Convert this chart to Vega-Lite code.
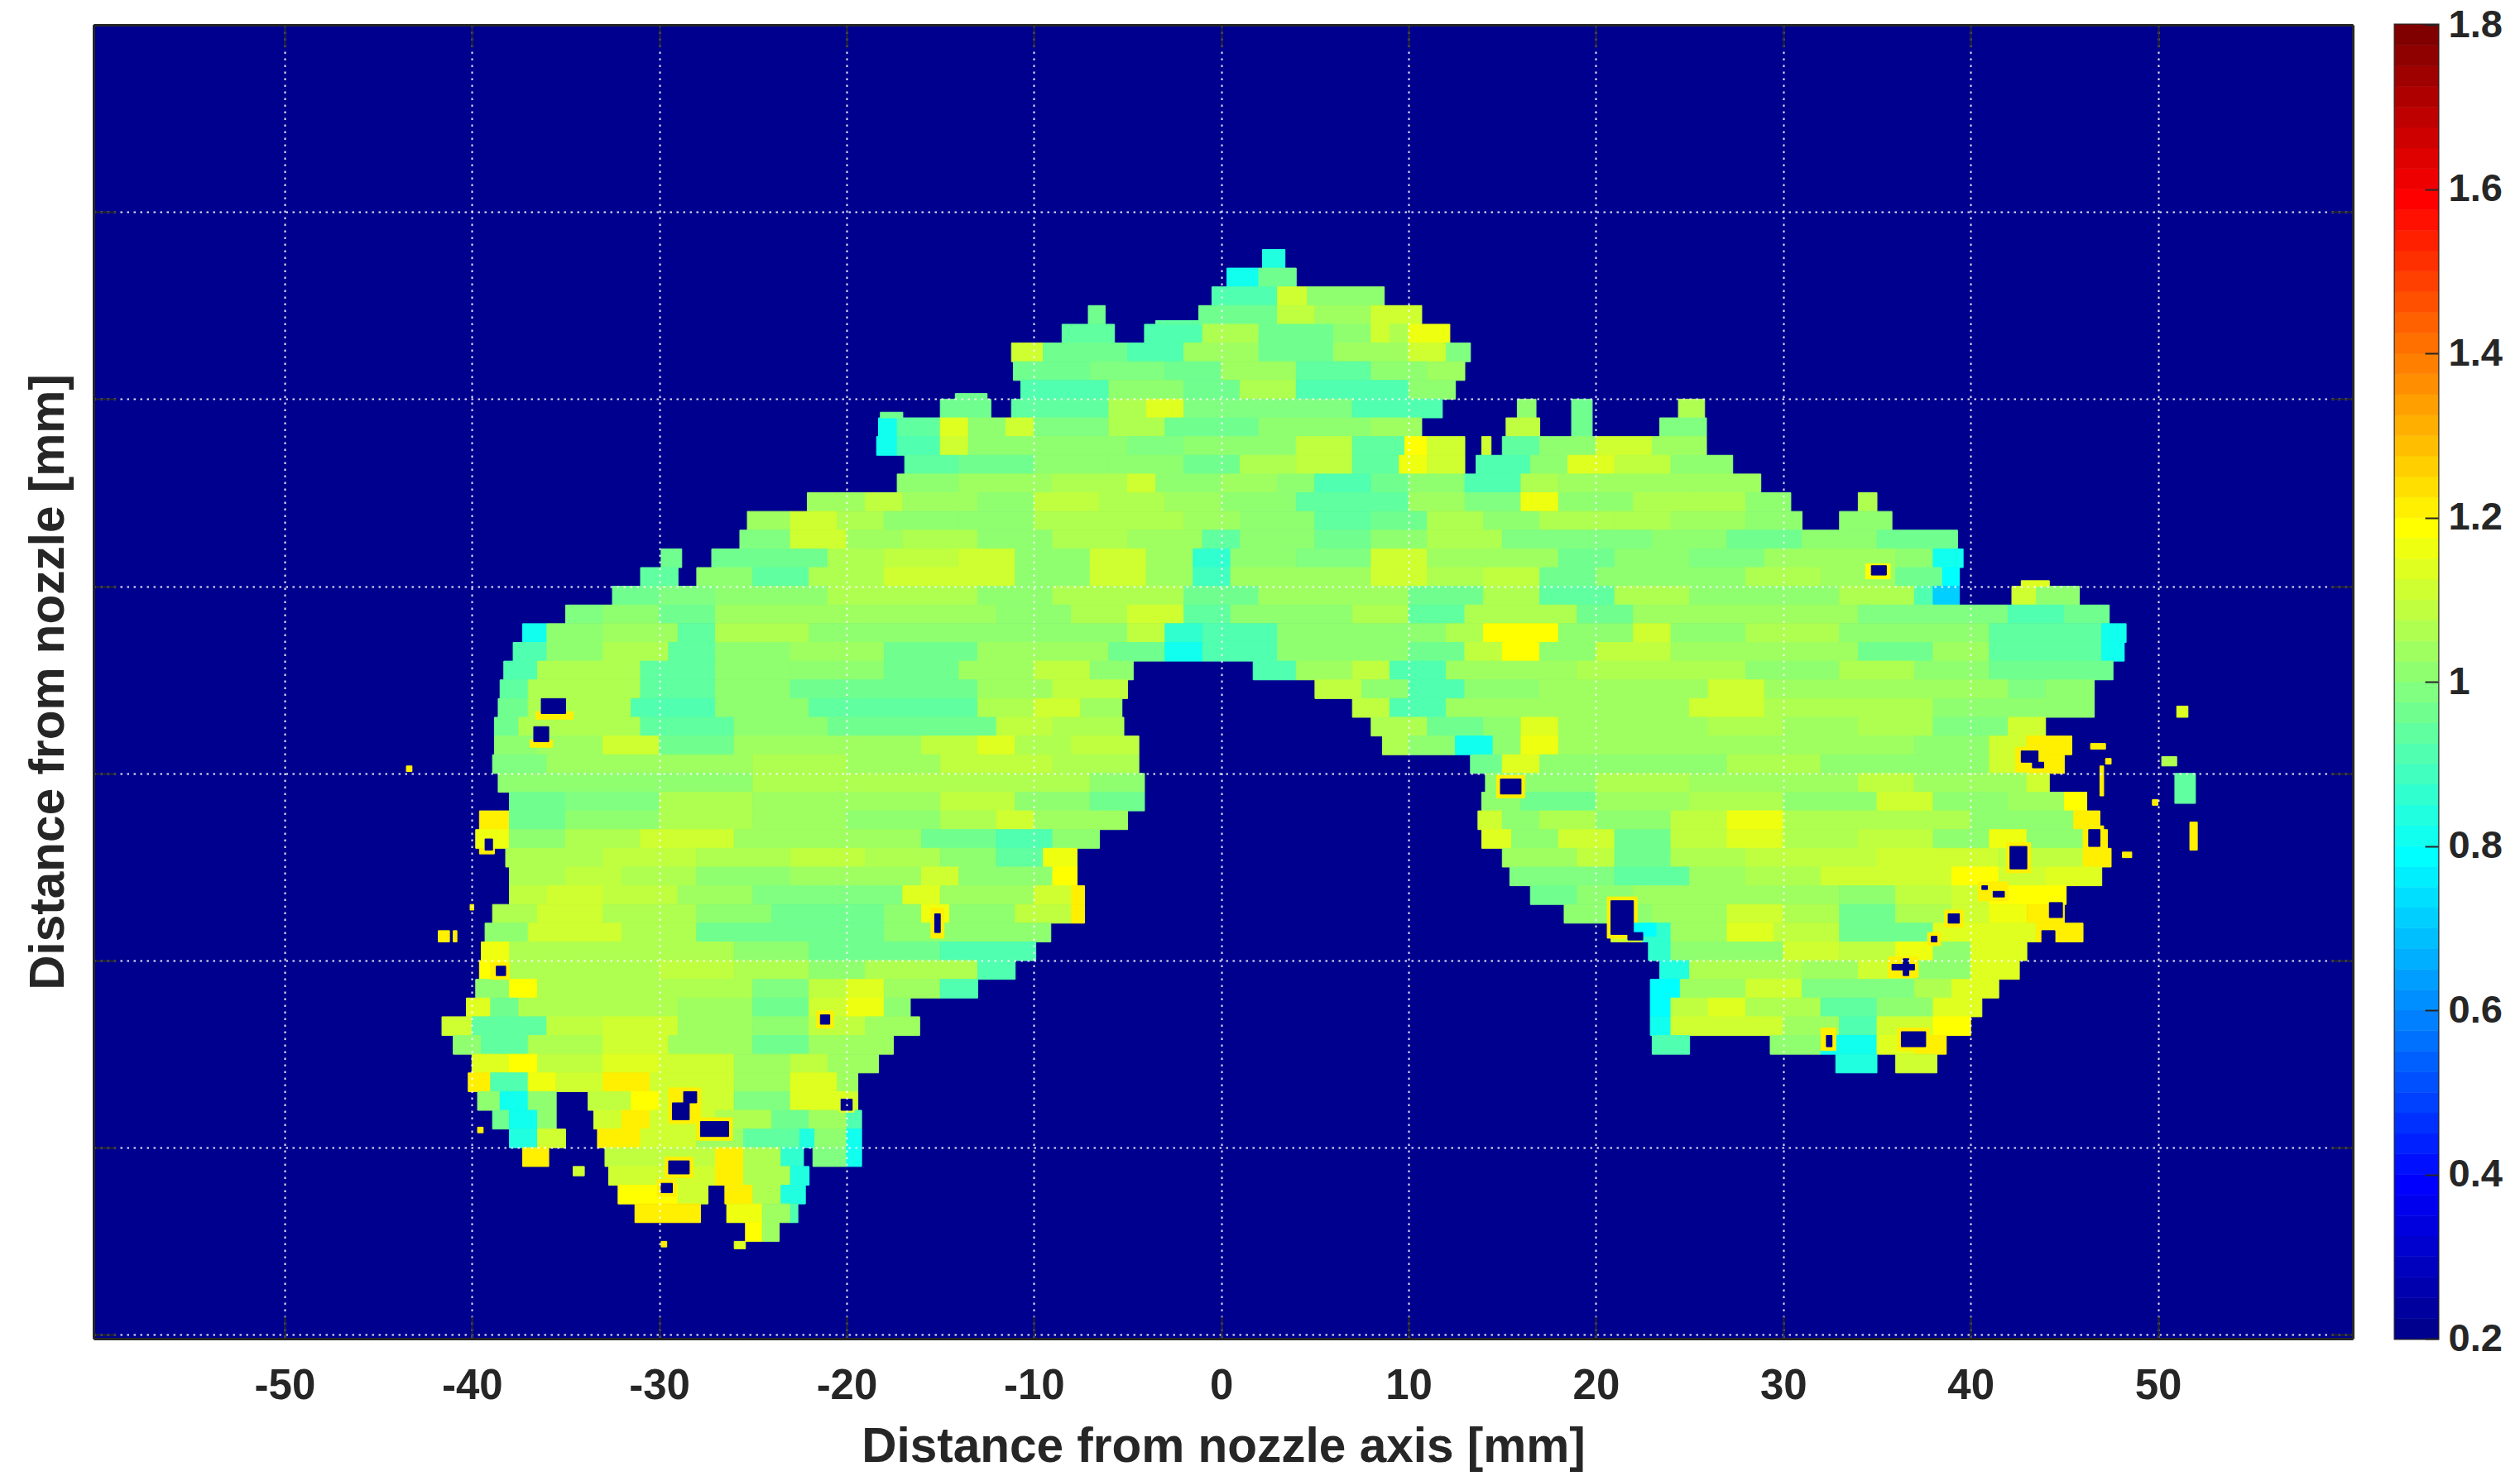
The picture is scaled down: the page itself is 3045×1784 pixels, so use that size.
{"$schema":"https://vega.github.io/schema/vega-lite/v6.json","background":"white","padding":{"left":29,"top":4,"right":5,"bottom":5},"spacing":48,"config":{"view":{"stroke":null},"font":"Liberation Sans"},"datasets":{"frame":[{"x":-60.2,"x2":60.4,"y":-0.2,"y2":70,"v":0.2}],
"cells":[{"x":-60.2,"x2":60.4,"y":-0.2,"y2":70,"v":0.2},
{"x":2.2,"x2":3.4,"y":57,"y2":58,"v":0.84},{"x":0.3,"x2":2,"y":56,"y2":57,"v":0.82},{"x":2,"x2":4,"y":56,"y2":57,"v":0.95},
{"x":-0.5,"x2":3,"y":55,"y2":56,"v":0.92},{"x":3,"x2":4.6,"y":55,"y2":56,"v":1.1},{"x":4.6,"x2":8.7,"y":55,"y2":56,"v":1.02},
{"x":-7.1,"x2":-6.2,"y":54,"y2":55,"v":0.95},{"x":-1.2,"x2":3,"y":54,"y2":55,"v":0.97},{"x":3,"x2":5,"y":54,"y2":55,"v":1.08},{"x":5,"x2":8,"y":54,"y2":55,"v":1.03},{"x":8,"x2":10.7,"y":54,"y2":55,"v":1.1},
{"x":-8.5,"x2":-5.7,"y":53,"y2":54,"v":0.93},{"x":-4.1,"x2":-1,"y":53,"y2":54,"v":0.92},{"x":-1,"x2":2,"y":53,"y2":54,"v":1.05},{"x":2,"x2":6,"y":53,"y2":54,"v":0.96},{"x":6,"x2":8,"y":53,"y2":54,"v":1.02},{"x":8,"x2":9,"y":53,"y2":54,"v":1.12},{"x":9,"x2":10,"y":53,"y2":54,"v":1.06},{"x":10,"x2":12.2,"y":53,"y2":54,"v":1.16},
{"x":-11.2,"x2":-9.5,"y":52,"y2":53,"v":1.12},{"x":-9.5,"x2":-5,"y":52,"y2":53,"v":0.95},{"x":-5,"x2":-2,"y":52,"y2":53,"v":0.92},{"x":-2,"x2":2,"y":52,"y2":53,"v":1.03},{"x":2,"x2":6,"y":52,"y2":53,"v":0.96},{"x":6,"x2":10,"y":52,"y2":53,"v":1.03},{"x":10,"x2":12,"y":52,"y2":53,"v":1.12},{"x":12,"x2":13.3,"y":52,"y2":53,"v":0.98},
{"x":-11.1,"x2":-7,"y":51,"y2":52,"v":0.95},{"x":-7,"x2":-3,"y":51,"y2":52,"v":0.98},{"x":-3,"x2":0,"y":51,"y2":52,"v":0.96},{"x":0,"x2":4,"y":51,"y2":52,"v":1.03},{"x":4,"x2":8,"y":51,"y2":52,"v":0.94},{"x":8,"x2":11,"y":51,"y2":52,"v":1.0},{"x":11,"x2":13,"y":51,"y2":52,"v":1.03},
{"x":-10.7,"x2":-6,"y":50,"y2":51,"v":0.92},{"x":-6,"x2":-2,"y":50,"y2":51,"v":1},{"x":-2,"x2":1,"y":50,"y2":51,"v":0.97},{"x":1,"x2":4,"y":50,"y2":51,"v":1.05},{"x":4,"x2":10,"y":50,"y2":51,"v":0.92},{"x":10,"x2":12.5,"y":50,"y2":51,"v":1.0},
{"x":-15,"x2":-12.3,"y":49,"y2":50,"v":0.97},{"x":-11.2,"x2":-6,"y":49,"y2":50,"v":0.93},{"x":-6,"x2":-4,"y":49,"y2":50,"v":1.05},{"x":-4,"x2":-2,"y":49,"y2":50,"v":1.13},{"x":-2,"x2":7,"y":49,"y2":50,"v":0.98},{"x":7,"x2":11.8,"y":49,"y2":50,"v":0.92},{"x":15.8,"x2":16.8,"y":49,"y2":50,"v":1.0},{"x":18.7,"x2":19.8,"y":49,"y2":50,"v":0.95},{"x":24.4,"x2":25.8,"y":49,"y2":50,"v":1.05},
{"x":-18.3,"x2":-17.3,"y":48,"y2":49,"v":0.82},{"x":-17.3,"x2":-15,"y":48,"y2":49,"v":0.93},{"x":-15,"x2":-13.5,"y":48,"y2":49,"v":1.15},{"x":-13.5,"x2":-11.5,"y":48,"y2":49,"v":1.02},{"x":-11.5,"x2":-10,"y":48,"y2":49,"v":1.12},{"x":-10,"x2":-6,"y":48,"y2":49,"v":0.98},{"x":-6,"x2":-3,"y":48,"y2":49,"v":1.06},{"x":-3,"x2":2,"y":48,"y2":49,"v":0.97},{"x":2,"x2":8,"y":48,"y2":49,"v":1},{"x":8,"x2":10.7,"y":48,"y2":49,"v":1.03},{"x":15.2,"x2":17,"y":48,"y2":49,"v":1.08},{"x":18.7,"x2":19.8,"y":48,"y2":49,"v":0.97},{"x":23.4,"x2":25.9,"y":48,"y2":49,"v":0.98},
{"x":-18.4,"x2":-17.3,"y":47,"y2":48,"v":0.8},{"x":-17.3,"x2":-15,"y":47,"y2":48,"v":0.92},{"x":-15,"x2":-13.5,"y":47,"y2":48,"v":1.12},{"x":-13.5,"x2":-5,"y":47,"y2":48,"v":1.02},{"x":-5,"x2":-2,"y":47,"y2":48,"v":0.98},{"x":-2,"x2":4,"y":47,"y2":48,"v":1.0},{"x":4,"x2":7,"y":47,"y2":48,"v":1.08},{"x":7,"x2":9.8,"y":47,"y2":48,"v":0.93},{"x":9.8,"x2":11,"y":47,"y2":48,"v":1.18},{"x":11,"x2":13,"y":47,"y2":48,"v":1.1},{"x":13.9,"x2":14.4,"y":47,"y2":48,"v":1.12},{"x":15,"x2":17,"y":47,"y2":48,"v":0.93},{"x":17,"x2":20,"y":47,"y2":48,"v":1.02},{"x":20,"x2":23,"y":47,"y2":48,"v":1.1},{"x":23,"x2":25.9,"y":47,"y2":48,"v":1.04},
{"x":-16.9,"x2":-14,"y":46,"y2":47,"v":0.93},{"x":-14,"x2":-10,"y":46,"y2":47,"v":0.95},{"x":-10,"x2":-6,"y":46,"y2":47,"v":1.02},{"x":-6,"x2":-2,"y":46,"y2":47,"v":1},{"x":-2,"x2":1,"y":46,"y2":47,"v":0.95},{"x":1,"x2":4,"y":46,"y2":47,"v":1.05},{"x":4,"x2":7,"y":46,"y2":47,"v":1.08},{"x":7,"x2":9.5,"y":46,"y2":47,"v":0.93},{"x":9.5,"x2":11,"y":46,"y2":47,"v":1.16},{"x":11,"x2":13,"y":46,"y2":47,"v":1.1},{"x":13.6,"x2":16.5,"y":46,"y2":47,"v":0.9},{"x":16.5,"x2":18.5,"y":46,"y2":47,"v":1.02},{"x":18.5,"x2":21,"y":46,"y2":47,"v":1.14},{"x":21,"x2":24,"y":46,"y2":47,"v":1.08},{"x":24,"x2":27.3,"y":46,"y2":47,"v":1.02},
{"x":-17.3,"x2":-14,"y":45,"y2":46,"v":1.0},{"x":-14,"x2":-9,"y":45,"y2":46,"v":1.03},{"x":-9,"x2":-5,"y":45,"y2":46,"v":1.06},{"x":-5,"x2":-3.5,"y":45,"y2":46,"v":1.11},{"x":-3.5,"x2":0,"y":45,"y2":46,"v":1.0},{"x":0,"x2":3,"y":45,"y2":46,"v":1.03},{"x":3,"x2":5,"y":45,"y2":46,"v":1},{"x":5,"x2":8,"y":45,"y2":46,"v":0.92},{"x":8,"x2":10,"y":45,"y2":46,"v":0.95},{"x":10,"x2":13,"y":45,"y2":46,"v":1.02},{"x":13,"x2":16,"y":45,"y2":46,"v":0.9},{"x":16,"x2":18,"y":45,"y2":46,"v":1.05},{"x":18,"x2":28.8,"y":45,"y2":46,"v":1.03},
{"x":-22.1,"x2":-19,"y":44,"y2":45,"v":1.03},{"x":-19,"x2":-17,"y":44,"y2":45,"v":1.08},{"x":-17,"x2":-13,"y":44,"y2":45,"v":1.03},{"x":-13,"x2":-10,"y":44,"y2":45,"v":1},{"x":-10,"x2":-6.5,"y":44,"y2":45,"v":1.08},{"x":-6.5,"x2":-3,"y":44,"y2":45,"v":1.05},{"x":-3,"x2":0,"y":44,"y2":45,"v":1.03},{"x":0,"x2":4,"y":44,"y2":45,"v":1.0},{"x":4,"x2":10,"y":44,"y2":45,"v":0.93},{"x":10,"x2":13,"y":44,"y2":45,"v":1.03},{"x":13,"x2":16,"y":44,"y2":45,"v":0.98},{"x":16,"x2":18,"y":44,"y2":45,"v":1.16},{"x":18,"x2":22,"y":44,"y2":45,"v":1.0},{"x":22,"x2":25,"y":44,"y2":45,"v":1.07},{"x":25,"x2":28,"y":44,"y2":45,"v":1.05},{"x":28,"x2":30.4,"y":44,"y2":45,"v":1.0},{"x":34,"x2":35,"y":44,"y2":45,"v":1.05},
{"x":-25.3,"x2":-23,"y":43,"y2":44,"v":1.03},{"x":-23,"x2":-20.5,"y":43,"y2":44,"v":1.12},{"x":-20.5,"x2":-18,"y":43,"y2":44,"v":1.05},{"x":-18,"x2":-14,"y":43,"y2":44,"v":1.02},{"x":-14,"x2":-10,"y":43,"y2":44,"v":1},{"x":-10,"x2":-2,"y":43,"y2":44,"v":1.07},{"x":-2,"x2":1,"y":43,"y2":44,"v":1.03},{"x":1,"x2":5,"y":43,"y2":44,"v":1},{"x":5,"x2":8,"y":43,"y2":44,"v":0.94},{"x":8,"x2":11,"y":43,"y2":44,"v":0.96},{"x":11,"x2":14,"y":43,"y2":44,"v":1.05},{"x":14,"x2":17,"y":43,"y2":44,"v":1},{"x":17,"x2":21,"y":43,"y2":44,"v":1.05},{"x":21,"x2":24,"y":43,"y2":44,"v":1.07},{"x":24,"x2":28,"y":43,"y2":44,"v":1.03},{"x":28,"x2":31,"y":43,"y2":44,"v":1.0},{"x":33,"x2":35.8,"y":43,"y2":44,"v":1.0},
{"x":-25.7,"x2":-23,"y":42,"y2":43,"v":0.98},{"x":-23,"x2":-20,"y":42,"y2":43,"v":1.1},{"x":-20,"x2":-17,"y":42,"y2":43,"v":1.03},{"x":-17,"x2":-13,"y":42,"y2":43,"v":1.05},{"x":-13,"x2":-9,"y":42,"y2":43,"v":1},{"x":-9,"x2":-5,"y":42,"y2":43,"v":1.05},{"x":-5,"x2":-1,"y":42,"y2":43,"v":1.03},{"x":-1,"x2":1,"y":42,"y2":43,"v":0.94},{"x":1,"x2":5,"y":42,"y2":43,"v":1},{"x":5,"x2":8,"y":42,"y2":43,"v":0.95},{"x":8,"x2":11,"y":42,"y2":43,"v":1.02},{"x":11,"x2":15,"y":42,"y2":43,"v":1.05},{"x":15,"x2":23,"y":42,"y2":43,"v":0.99},{"x":23,"x2":27,"y":42,"y2":43,"v":1.02},{"x":27,"x2":31,"y":42,"y2":43,"v":0.95},{"x":31,"x2":35,"y":42,"y2":43,"v":1},{"x":35,"x2":39.3,"y":42,"y2":43,"v":0.95},
{"x":-29.9,"x2":-28.8,"y":41,"y2":42,"v":0.95},{"x":-27.2,"x2":-24,"y":41,"y2":42,"v":0.97},{"x":-24,"x2":-21,"y":41,"y2":42,"v":0.95},{"x":-21,"x2":-18,"y":41,"y2":42,"v":1.05},{"x":-18,"x2":-14,"y":41,"y2":42,"v":1.08},{"x":-14,"x2":-11,"y":41,"y2":42,"v":1.1},{"x":-11,"x2":-7,"y":41,"y2":42,"v":1.02},{"x":-7,"x2":-4,"y":41,"y2":42,"v":1.12},{"x":-4,"x2":-1.5,"y":41,"y2":42,"v":1.04},{"x":-1.5,"x2":0.5,"y":41,"y2":42,"v":0.87},{"x":0.5,"x2":4,"y":41,"y2":42,"v":1.02},{"x":4,"x2":8,"y":41,"y2":42,"v":0.98},{"x":8,"x2":11,"y":41,"y2":42,"v":1.1},{"x":11,"x2":18,"y":41,"y2":42,"v":1.03},{"x":18,"x2":21,"y":41,"y2":42,"v":0.97},{"x":21,"x2":25,"y":41,"y2":42,"v":1},{"x":25,"x2":29,"y":41,"y2":42,"v":0.98},{"x":29,"x2":36,"y":41,"y2":42,"v":1.03},{"x":36,"x2":38,"y":41,"y2":42,"v":1},{"x":38,"x2":39.6,"y":41,"y2":42,"v":0.8},
{"x":-31,"x2":-29,"y":40,"y2":41,"v":0.93},{"x":-28,"x2":-25,"y":40,"y2":41,"v":1},{"x":-25,"x2":-22,"y":40,"y2":41,"v":0.93},{"x":-22,"x2":-18,"y":40,"y2":41,"v":1.05},{"x":-18,"x2":-11,"y":40,"y2":41,"v":1.1},{"x":-11,"x2":-7,"y":40,"y2":41,"v":1},{"x":-7,"x2":-4,"y":40,"y2":41,"v":1.11},{"x":-4,"x2":-1.5,"y":40,"y2":41,"v":1.03},{"x":-1.5,"x2":0.5,"y":40,"y2":41,"v":0.88},{"x":0.5,"x2":8,"y":40,"y2":41,"v":1.03},{"x":8,"x2":11,"y":40,"y2":41,"v":1.1},{"x":11,"x2":14,"y":40,"y2":41,"v":1.07},{"x":14,"x2":17,"y":40,"y2":41,"v":1.09},{"x":17,"x2":20,"y":40,"y2":41,"v":0.95},{"x":20,"x2":24,"y":40,"y2":41,"v":1.02},{"x":24,"x2":28,"y":40,"y2":41,"v":1.0},{"x":28,"x2":32,"y":40,"y2":41,"v":1.05},{"x":32,"x2":36,"y":40,"y2":41,"v":1.03},{"x":36,"x2":38.5,"y":40,"y2":41,"v":0.95},{"x":38.5,"x2":39.4,"y":40,"y2":41,"v":0.78},
{"x":-32.5,"x2":-30,"y":39,"y2":40,"v":0.95},{"x":-30,"x2":-27,"y":39,"y2":40,"v":0.98},{"x":-27,"x2":-21,"y":39,"y2":40,"v":1.01},{"x":-21,"x2":-13,"y":39,"y2":40,"v":1.07},{"x":-13,"x2":-9,"y":39,"y2":40,"v":1.02},{"x":-9,"x2":-2,"y":39,"y2":40,"v":1.05},{"x":-2,"x2":2,"y":39,"y2":40,"v":0.95},{"x":2,"x2":10,"y":39,"y2":40,"v":1.04},{"x":10,"x2":14,"y":39,"y2":40,"v":0.97},{"x":14,"x2":17,"y":39,"y2":40,"v":1.05},{"x":17,"x2":21,"y":39,"y2":40,"v":0.93},{"x":21,"x2":25,"y":39,"y2":40,"v":1.05},{"x":25,"x2":33,"y":39,"y2":40,"v":1.01},{"x":33,"x2":37,"y":39,"y2":40,"v":1.05},{"x":37,"x2":38,"y":39,"y2":40,"v":0.9},{"x":38,"x2":39.4,"y":39,"y2":40,"v":0.72},{"x":42.2,"x2":43.5,"y":39,"y2":40,"v":1.1},{"x":43.5,"x2":45.8,"y":39,"y2":40,"v":1.0},
{"x":-35,"x2":-33,"y":38,"y2":39,"v":0.98},{"x":-33,"x2":-30,"y":38,"y2":39,"v":1.02},{"x":-30,"x2":-27,"y":38,"y2":39,"v":0.95},{"x":-27,"x2":-12,"y":38,"y2":39,"v":1.03},{"x":-12,"x2":-8,"y":38,"y2":39,"v":1.0},{"x":-8,"x2":-5,"y":38,"y2":39,"v":1.05},{"x":-5,"x2":-2,"y":38,"y2":39,"v":1.12},{"x":-2,"x2":0.5,"y":38,"y2":39,"v":0.93},{"x":0.5,"x2":7,"y":38,"y2":39,"v":1.01},{"x":7,"x2":10,"y":38,"y2":39,"v":1.07},{"x":10,"x2":13,"y":38,"y2":39,"v":0.93},{"x":13,"x2":19,"y":38,"y2":39,"v":1.05},{"x":19,"x2":22,"y":38,"y2":39,"v":0.95},{"x":22,"x2":34,"y":38,"y2":39,"v":1.03},{"x":34,"x2":42,"y":38,"y2":39,"v":0.99},{"x":42,"x2":45,"y":38,"y2":39,"v":0.91},{"x":45,"x2":47.4,"y":38,"y2":39,"v":0.95},
{"x":-37.3,"x2":-36,"y":37,"y2":38,"v":0.82},{"x":-36,"x2":-33,"y":37,"y2":38,"v":1},{"x":-33,"x2":-29,"y":37,"y2":38,"v":1.03},{"x":-29,"x2":-27,"y":37,"y2":38,"v":0.93},{"x":-27,"x2":-22,"y":37,"y2":38,"v":1.05},{"x":-22,"x2":-5,"y":37,"y2":38,"v":1.02},{"x":-5,"x2":-3,"y":37,"y2":38,"v":1.08},{"x":-3,"x2":-1,"y":37,"y2":38,"v":0.87},{"x":-1,"x2":3,"y":37,"y2":38,"v":0.9},{"x":3,"x2":12,"y":37,"y2":38,"v":1},{"x":12,"x2":14,"y":37,"y2":38,"v":1.05},{"x":14,"x2":18,"y":37,"y2":38,"v":1.18},{"x":18,"x2":22,"y":37,"y2":38,"v":1.0},{"x":22,"x2":24,"y":37,"y2":38,"v":1.1},{"x":24,"x2":28,"y":37,"y2":38,"v":1.0},{"x":28,"x2":33,"y":37,"y2":38,"v":1.05},{"x":33,"x2":41,"y":37,"y2":38,"v":1},{"x":41,"x2":47,"y":37,"y2":38,"v":0.93},{"x":47,"x2":48.3,"y":37,"y2":38,"v":0.8},
{"x":-37.8,"x2":-36,"y":36,"y2":37,"v":0.9},{"x":-36,"x2":-33,"y":36,"y2":37,"v":1.02},{"x":-33,"x2":-29.5,"y":36,"y2":37,"v":1.07},{"x":-29.5,"x2":-27,"y":36,"y2":37,"v":0.93},{"x":-27,"x2":-23,"y":36,"y2":37,"v":1.0},{"x":-23,"x2":-18,"y":36,"y2":37,"v":1.03},{"x":-18,"x2":-13,"y":36,"y2":37,"v":0.97},{"x":-13,"x2":-6,"y":36,"y2":37,"v":1.04},{"x":-6,"x2":-3,"y":36,"y2":37,"v":0.97},{"x":-3,"x2":-1,"y":36,"y2":37,"v":0.82},{"x":-1,"x2":3,"y":36,"y2":37,"v":0.9},{"x":3,"x2":10,"y":36,"y2":37,"v":1.01},{"x":10,"x2":13,"y":36,"y2":37,"v":0.95},{"x":13,"x2":15,"y":36,"y2":37,"v":1.08},{"x":15,"x2":17,"y":36,"y2":37,"v":1.18},{"x":17,"x2":20,"y":36,"y2":37,"v":1.02},{"x":20,"x2":24,"y":36,"y2":37,"v":1.08},{"x":24,"x2":34,"y":36,"y2":37,"v":1.03},{"x":34,"x2":38,"y":36,"y2":37,"v":0.97},{"x":38,"x2":41,"y":36,"y2":37,"v":1.03},{"x":41,"x2":47,"y":36,"y2":37,"v":0.93},{"x":47,"x2":48.2,"y":36,"y2":37,"v":0.82},
{"x":-38.3,"x2":-36.5,"y":35,"y2":36,"v":0.9},{"x":-36.5,"x2":-31,"y":35,"y2":36,"v":1.06},{"x":-31,"x2":-27,"y":35,"y2":36,"v":0.93},{"x":-27,"x2":-23,"y":35,"y2":36,"v":1.02},{"x":-23,"x2":-18,"y":35,"y2":36,"v":1.0},{"x":-18,"x2":-14,"y":35,"y2":36,"v":0.96},{"x":-14,"x2":-10,"y":35,"y2":36,"v":1.03},{"x":-10,"x2":-7,"y":35,"y2":36,"v":1.08},{"x":-7,"x2":-4.7,"y":35,"y2":36,"v":1.02},{"x":1.7,"x2":4,"y":35,"y2":36,"v":0.9},{"x":4,"x2":7,"y":35,"y2":36,"v":1.03},{"x":7,"x2":9,"y":35,"y2":36,"v":1.08},{"x":9,"x2":12,"y":35,"y2":36,"v":0.92},{"x":12,"x2":19,"y":35,"y2":36,"v":1.03},{"x":19,"x2":28,"y":35,"y2":36,"v":1.07},{"x":28,"x2":33,"y":35,"y2":36,"v":1.02},{"x":33,"x2":37,"y":35,"y2":36,"v":1.05},{"x":37,"x2":41,"y":35,"y2":36,"v":1.02},{"x":41,"x2":47.6,"y":35,"y2":36,"v":0.95},
{"x":-38.5,"x2":-37,"y":34,"y2":35,"v":0.93},{"x":-37,"x2":-31,"y":34,"y2":35,"v":1.05},{"x":-31,"x2":-27,"y":34,"y2":35,"v":0.94},{"x":-27,"x2":-23,"y":34,"y2":35,"v":1.0},{"x":-23,"x2":-13,"y":34,"y2":35,"v":0.95},{"x":-13,"x2":-9,"y":34,"y2":35,"v":1.03},{"x":-9,"x2":-5,"y":34,"y2":35,"v":1.08},{"x":5,"x2":7.5,"y":34,"y2":35,"v":1.08},{"x":7.5,"x2":10,"y":34,"y2":35,"v":1.0},{"x":10,"x2":13,"y":34,"y2":35,"v":0.9},{"x":13,"x2":17,"y":34,"y2":35,"v":1},{"x":17,"x2":26,"y":34,"y2":35,"v":1.04},{"x":26,"x2":29,"y":34,"y2":35,"v":1.11},{"x":29,"x2":42,"y":34,"y2":35,"v":1.03},{"x":42,"x2":44,"y":34,"y2":35,"v":0.98},{"x":44,"x2":46.6,"y":34,"y2":35,"v":1.02},
{"x":-38.6,"x2":-37,"y":33,"y2":34,"v":0.97},{"x":-37,"x2":-31.5,"y":33,"y2":34,"v":1.07},{"x":-31.5,"x2":-27,"y":33,"y2":34,"v":0.92},{"x":-27,"x2":-22,"y":33,"y2":34,"v":1.0},{"x":-22,"x2":-13,"y":33,"y2":34,"v":0.94},{"x":-13,"x2":-10,"y":33,"y2":34,"v":1.05},{"x":-10,"x2":-7.5,"y":33,"y2":34,"v":1.11},{"x":-7.5,"x2":-5.3,"y":33,"y2":34,"v":1.03},{"x":7,"x2":9,"y":33,"y2":34,"v":1.08},{"x":9,"x2":12,"y":33,"y2":34,"v":0.9},{"x":12,"x2":25,"y":33,"y2":34,"v":1.03},{"x":25,"x2":29,"y":33,"y2":34,"v":1.1},{"x":29,"x2":38,"y":33,"y2":34,"v":1.05},{"x":38,"x2":46.6,"y":33,"y2":34,"v":1.01},
{"x":-38.8,"x2":-37.5,"y":32,"y2":33,"v":0.95},{"x":-37.5,"x2":-31,"y":32,"y2":33,"v":1.05},{"x":-31,"x2":-26,"y":32,"y2":33,"v":0.93},{"x":-26,"x2":-21,"y":32,"y2":33,"v":1.0},{"x":-21,"x2":-12,"y":32,"y2":33,"v":0.95},{"x":-12,"x2":-9,"y":32,"y2":33,"v":1.08},{"x":-9,"x2":-5.2,"y":32,"y2":33,"v":1.05},{"x":8,"x2":11,"y":32,"y2":33,"v":1.05},{"x":11,"x2":14,"y":32,"y2":33,"v":0.97},{"x":14,"x2":16,"y":32,"y2":33,"v":1.0},{"x":16,"x2":18,"y":32,"y2":33,"v":1.13},{"x":18,"x2":26,"y":32,"y2":33,"v":1.03},{"x":26,"x2":30,"y":32,"y2":33,"v":1.07},{"x":30,"x2":34,"y":32,"y2":33,"v":1.03},{"x":34,"x2":38,"y":32,"y2":33,"v":1.07},{"x":38,"x2":42,"y":32,"y2":33,"v":0.98},{"x":42,"x2":44,"y":32,"y2":33,"v":1.12},
{"x":-38.8,"x2":-36.5,"y":31,"y2":32,"v":1.0},{"x":-36.5,"x2":-33,"y":31,"y2":32,"v":1.03},{"x":-33,"x2":-30,"y":31,"y2":32,"v":1.12},{"x":-30,"x2":-26,"y":31,"y2":32,"v":0.97},{"x":-26,"x2":-16,"y":31,"y2":32,"v":1.03},{"x":-16,"x2":-13,"y":31,"y2":32,"v":1.08},{"x":-13,"x2":-11,"y":31,"y2":32,"v":1.15},{"x":-11,"x2":-8,"y":31,"y2":32,"v":1.05},{"x":-8,"x2":-4.4,"y":31,"y2":32,"v":1.08},{"x":8.6,"x2":10,"y":31,"y2":32,"v":1.05},{"x":10,"x2":12.5,"y":31,"y2":32,"v":1.0},{"x":12.5,"x2":14.5,"y":31,"y2":32,"v":0.82},{"x":14.5,"x2":16,"y":31,"y2":32,"v":1.02},{"x":16,"x2":18,"y":31,"y2":32,"v":1.16},{"x":18,"x2":28,"y":31,"y2":32,"v":1.03},{"x":28,"x2":37,"y":31,"y2":32,"v":1.04},{"x":37,"x2":41,"y":31,"y2":32,"v":1.0},{"x":41,"x2":43,"y":31,"y2":32,"v":1.12},{"x":43,"x2":45.4,"y":31,"y2":32,"v":1.2},
{"x":-38.9,"x2":-36,"y":30,"y2":31,"v":0.98},{"x":-36,"x2":-25,"y":30,"y2":31,"v":1.03},{"x":-25,"x2":-20,"y":30,"y2":31,"v":1.07},{"x":-20,"x2":-15,"y":30,"y2":31,"v":1.03},{"x":-15,"x2":-9,"y":30,"y2":31,"v":1.08},{"x":-9,"x2":-4.4,"y":30,"y2":31,"v":1.05},{"x":13.3,"x2":15,"y":30,"y2":31,"v":0.95},{"x":15,"x2":17,"y":30,"y2":31,"v":1.15},{"x":17,"x2":27,"y":30,"y2":31,"v":1.0},{"x":27,"x2":32,"y":30,"y2":31,"v":1.05},{"x":32,"x2":41,"y":30,"y2":31,"v":1.01},{"x":41,"x2":43,"y":30,"y2":31,"v":1.1},{"x":43,"x2":45,"y":30,"y2":31,"v":1.2},
{"x":-38.6,"x2":-35,"y":29,"y2":30,"v":1},{"x":-35,"x2":-25,"y":29,"y2":30,"v":1.02},{"x":-25,"x2":-20,"y":29,"y2":30,"v":1.07},{"x":-20,"x2":-7,"y":29,"y2":30,"v":1.05},{"x":-7,"x2":-4.1,"y":29,"y2":30,"v":1.02},{"x":14.1,"x2":20,"y":29,"y2":30,"v":1.0},{"x":20,"x2":25,"y":29,"y2":30,"v":1.05},{"x":25,"x2":34,"y":29,"y2":30,"v":1.03},{"x":34,"x2":37,"y":29,"y2":30,"v":1.08},{"x":37,"x2":43,"y":29,"y2":30,"v":1.04},{"x":43,"x2":44.2,"y":29,"y2":30,"v":1.1},
{"x":-38,"x2":-35,"y":28,"y2":29,"v":0.95},{"x":-35,"x2":-30,"y":28,"y2":29,"v":0.98},{"x":-30,"x2":-25,"y":28,"y2":29,"v":1.05},{"x":-25,"x2":-15,"y":28,"y2":29,"v":1.03},{"x":-15,"x2":-11,"y":28,"y2":29,"v":1.08},{"x":-11,"x2":-7,"y":28,"y2":29,"v":1.0},{"x":-7,"x2":-4.1,"y":28,"y2":29,"v":0.97},{"x":13.9,"x2":16,"y":28,"y2":29,"v":1},{"x":16,"x2":20,"y":28,"y2":29,"v":0.97},{"x":20,"x2":25,"y":28,"y2":29,"v":1.03},{"x":25,"x2":30,"y":28,"y2":29,"v":1.05},{"x":30,"x2":35,"y":28,"y2":29,"v":1.02},{"x":35,"x2":38,"y":28,"y2":29,"v":1.1},{"x":38,"x2":42,"y":28,"y2":29,"v":1},{"x":42,"x2":45,"y":28,"y2":29,"v":1.03},{"x":45,"x2":46.2,"y":28,"y2":29,"v":1.18},
{"x":-39.6,"x2":-38,"y":27,"y2":28,"v":1.2},{"x":-38,"x2":-35,"y":27,"y2":28,"v":0.97},{"x":-35,"x2":-30,"y":27,"y2":28,"v":1.0},{"x":-30,"x2":-25,"y":27,"y2":28,"v":1.07},{"x":-25,"x2":-20,"y":27,"y2":28,"v":1.03},{"x":-20,"x2":-15,"y":27,"y2":28,"v":1.0},{"x":-15,"x2":-12,"y":27,"y2":28,"v":1.05},{"x":-12,"x2":-10,"y":27,"y2":28,"v":1.12},{"x":-10,"x2":-5,"y":27,"y2":28,"v":1.03},{"x":13.7,"x2":15,"y":27,"y2":28,"v":1.1},{"x":15,"x2":17,"y":27,"y2":28,"v":1.0},{"x":17,"x2":20,"y":27,"y2":28,"v":1.07},{"x":20,"x2":24,"y":27,"y2":28,"v":1.0},{"x":24,"x2":27,"y":27,"y2":28,"v":1.08},{"x":27,"x2":30,"y":27,"y2":28,"v":1.17},{"x":30,"x2":40,"y":27,"y2":28,"v":1.05},{"x":40,"x2":45.5,"y":27,"y2":28,"v":1.02},{"x":45.5,"x2":46.9,"y":27,"y2":28,"v":1.2},
{"x":-39.8,"x2":-38,"y":26,"y2":27,"v":1.16},{"x":-38,"x2":-35,"y":26,"y2":27,"v":1.0},{"x":-35,"x2":-31,"y":26,"y2":27,"v":1.05},{"x":-31,"x2":-26,"y":26,"y2":27,"v":1.1},{"x":-26,"x2":-16,"y":26,"y2":27,"v":1.04},{"x":-16,"x2":-12,"y":26,"y2":27,"v":0.96},{"x":-12,"x2":-9,"y":26,"y2":27,"v":0.92},{"x":-9,"x2":-6.5,"y":26,"y2":27,"v":1.0},{"x":13.9,"x2":15.5,"y":26,"y2":27,"v":1.15},{"x":15.5,"x2":18,"y":26,"y2":27,"v":1},{"x":18,"x2":21,"y":26,"y2":27,"v":1.1},{"x":21,"x2":24,"y":26,"y2":27,"v":0.95},{"x":24,"x2":27,"y":26,"y2":27,"v":1.08},{"x":27,"x2":30,"y":26,"y2":27,"v":1.15},{"x":30,"x2":34,"y":26,"y2":27,"v":1.05},{"x":34,"x2":38,"y":26,"y2":27,"v":1.08},{"x":38,"x2":41,"y":26,"y2":27,"v":1},{"x":41,"x2":43,"y":26,"y2":27,"v":1.16},{"x":43,"x2":46,"y":26,"y2":27,"v":1.02},{"x":46,"x2":47.3,"y":26,"y2":27,"v":1.2},
{"x":-38.2,"x2":-33,"y":25,"y2":26,"v":1.05},{"x":-33,"x2":-28,"y":25,"y2":26,"v":1.08},{"x":-28,"x2":-23,"y":25,"y2":26,"v":1.05},{"x":-23,"x2":-19,"y":25,"y2":26,"v":1.08},{"x":-19,"x2":-15,"y":25,"y2":26,"v":1.05},{"x":-15,"x2":-12,"y":25,"y2":26,"v":1.0},{"x":-12,"x2":-9.5,"y":25,"y2":26,"v":0.94},{"x":-9.5,"x2":-7.7,"y":25,"y2":26,"v":1.17},{"x":15,"x2":19,"y":25,"y2":26,"v":1.04},{"x":19,"x2":21,"y":25,"y2":26,"v":1.08},{"x":21,"x2":24,"y":25,"y2":26,"v":0.97},{"x":24,"x2":28,"y":25,"y2":26,"v":1.05},{"x":28,"x2":35,"y":25,"y2":26,"v":1.09},{"x":35,"x2":41.5,"y":25,"y2":26,"v":1.11},{"x":41.5,"x2":46,"y":25,"y2":26,"v":1.09},{"x":46,"x2":47.5,"y":25,"y2":26,"v":1.2},
{"x":-38,"x2":-35,"y":24,"y2":25,"v":1.07},{"x":-35,"x2":-32,"y":24,"y2":25,"v":1.09},{"x":-32,"x2":-28,"y":24,"y2":25,"v":1.07},{"x":-28,"x2":-23,"y":24,"y2":25,"v":1.02},{"x":-23,"x2":-16,"y":24,"y2":25,"v":1.04},{"x":-16,"x2":-14,"y":24,"y2":25,"v":1.1},{"x":-14,"x2":-9,"y":24,"y2":25,"v":1.02},{"x":-9,"x2":-7.7,"y":24,"y2":25,"v":1.18},{"x":15.4,"x2":21,"y":24,"y2":25,"v":0.98},{"x":21,"x2":25,"y":24,"y2":25,"v":0.94},{"x":25,"x2":28,"y":24,"y2":25,"v":1.03},{"x":28,"x2":32,"y":24,"y2":25,"v":1.07},{"x":32,"x2":39,"y":24,"y2":25,"v":1.12},{"x":39,"x2":41.5,"y":24,"y2":25,"v":1.18},{"x":41.5,"x2":44,"y":24,"y2":25,"v":1.1},{"x":44,"x2":47,"y":24,"y2":25,"v":1.14},
{"x":-38,"x2":-36,"y":23,"y2":24,"v":1.08},{"x":-36,"x2":-33,"y":23,"y2":24,"v":1.1},{"x":-33,"x2":-29,"y":23,"y2":24,"v":1.08},{"x":-29,"x2":-25,"y":23,"y2":24,"v":1.03},{"x":-25,"x2":-17,"y":23,"y2":24,"v":0.98},{"x":-17,"x2":-15,"y":23,"y2":24,"v":1.13},{"x":-15,"x2":-10,"y":23,"y2":24,"v":1.04},{"x":-10,"x2":-8,"y":23,"y2":24,"v":1.12},{"x":-8,"x2":-7.3,"y":23,"y2":24,"v":1.2},{"x":16.5,"x2":19,"y":23,"y2":24,"v":0.95},{"x":19,"x2":22,"y":23,"y2":24,"v":1},{"x":22,"x2":33,"y":23,"y2":24,"v":1.04},{"x":33,"x2":36,"y":23,"y2":24,"v":1.02},{"x":36,"x2":39,"y":23,"y2":24,"v":1.08},{"x":39,"x2":41,"y":23,"y2":24,"v":1.12},{"x":41,"x2":45.1,"y":23,"y2":24,"v":1.18},
{"x":-38.9,"x2":-36.5,"y":22,"y2":23,"v":1.05},{"x":-36.5,"x2":-33,"y":22,"y2":23,"v":1.11},{"x":-33,"x2":-28,"y":22,"y2":23,"v":1.07},{"x":-28,"x2":-24,"y":22,"y2":23,"v":1},{"x":-24,"x2":-18,"y":22,"y2":23,"v":0.96},{"x":-18,"x2":-16,"y":22,"y2":23,"v":1},{"x":-16,"x2":-14.5,"y":22,"y2":23,"v":1.16},{"x":-14.5,"x2":-11,"y":22,"y2":23,"v":1},{"x":-11,"x2":-8,"y":22,"y2":23,"v":1.08},{"x":-8,"x2":-7.3,"y":22,"y2":23,"v":1.2},{"x":18.3,"x2":23,"y":22,"y2":23,"v":1.0},{"x":23,"x2":27,"y":22,"y2":23,"v":1.03},{"x":27,"x2":30,"y":22,"y2":23,"v":1.1},{"x":30,"x2":33,"y":22,"y2":23,"v":1.05},{"x":33,"x2":36,"y":22,"y2":23,"v":0.97},{"x":36,"x2":39,"y":22,"y2":23,"v":1.05},{"x":39,"x2":41,"y":22,"y2":23,"v":1.12},{"x":41,"x2":43,"y":22,"y2":23,"v":1.17},{"x":43,"x2":45,"y":22,"y2":23,"v":1.2},
{"x":-39.3,"x2":-37,"y":21,"y2":22,"v":1.02},{"x":-37,"x2":-32,"y":21,"y2":22,"v":1.1},{"x":-32,"x2":-28,"y":21,"y2":22,"v":1.05},{"x":-28,"x2":-18,"y":21,"y2":22,"v":0.97},{"x":-18,"x2":-9.1,"y":21,"y2":22,"v":1.02},{"x":20.8,"x2":22.5,"y":21,"y2":22,"v":1.12},{"x":22.5,"x2":24,"y":21,"y2":22,"v":0.87},{"x":24,"x2":27,"y":21,"y2":22,"v":1.03},{"x":27,"x2":29.5,"y":21,"y2":22,"v":1.15},{"x":29.5,"x2":33,"y":21,"y2":22,"v":1.08},{"x":33,"x2":38,"y":21,"y2":22,"v":0.97},{"x":38,"x2":43.5,"y":21,"y2":22,"v":1.14},{"x":43.5,"x2":46,"y":21,"y2":22,"v":1.2},
{"x":-39.5,"x2":-38,"y":20,"y2":21,"v":1.16},{"x":-38,"x2":-26,"y":20,"y2":21,"v":1.06},{"x":-26,"x2":-22,"y":20,"y2":21,"v":1.0},{"x":-22,"x2":-15,"y":20,"y2":21,"v":0.95},{"x":-15,"x2":-9.9,"y":20,"y2":21,"v":0.91},{"x":22.8,"x2":24,"y":20,"y2":21,"v":0.86},{"x":24,"x2":30,"y":20,"y2":21,"v":1.02},{"x":30,"x2":33,"y":20,"y2":21,"v":1.12},{"x":33,"x2":36,"y":20,"y2":21,"v":1.08},{"x":36,"x2":38,"y":20,"y2":21,"v":1.17},{"x":38,"x2":40,"y":20,"y2":21,"v":1.0},{"x":40,"x2":43,"y":20,"y2":21,"v":1.14},
{"x":-39.6,"x2":-38,"y":19,"y2":20,"v":1.18},{"x":-38,"x2":-30,"y":19,"y2":20,"v":1.06},{"x":-30,"x2":-26,"y":19,"y2":20,"v":1.08},{"x":-26,"x2":-22,"y":19,"y2":20,"v":1.05},{"x":-22,"x2":-19,"y":19,"y2":20,"v":1.0},{"x":-19,"x2":-13,"y":19,"y2":20,"v":1.05},{"x":-13,"x2":-11,"y":19,"y2":20,"v":0.92},{"x":23.4,"x2":25,"y":19,"y2":20,"v":0.84},{"x":25,"x2":31,"y":19,"y2":20,"v":1.05},{"x":31,"x2":34,"y":19,"y2":20,"v":1.03},{"x":34,"x2":37,"y":19,"y2":20,"v":1.12},{"x":37,"x2":40,"y":19,"y2":20,"v":1.0},{"x":40,"x2":42.6,"y":19,"y2":20,"v":1.15},
{"x":-39.8,"x2":-38,"y":18,"y2":19,"v":1.0},{"x":-38,"x2":-36.5,"y":18,"y2":19,"v":1.18},{"x":-36.5,"x2":-25,"y":18,"y2":19,"v":1.05},{"x":-25,"x2":-22,"y":18,"y2":19,"v":0.98},{"x":-22,"x2":-20,"y":18,"y2":19,"v":1.08},{"x":-20,"x2":-18,"y":18,"y2":19,"v":1.14},{"x":-18,"x2":-15,"y":18,"y2":19,"v":1.03},{"x":-15,"x2":-13,"y":18,"y2":19,"v":0.92},{"x":22.9,"x2":24.5,"y":18,"y2":19,"v":0.78},{"x":24.5,"x2":28,"y":18,"y2":19,"v":1.03},{"x":28,"x2":31,"y":18,"y2":19,"v":1.12},{"x":31,"x2":37,"y":18,"y2":19,"v":0.98},{"x":37,"x2":39,"y":18,"y2":19,"v":1.05},{"x":39,"x2":41.5,"y":18,"y2":19,"v":1.15},
{"x":-40.3,"x2":-39,"y":17,"y2":18,"v":1.15},{"x":-39,"x2":-37.5,"y":17,"y2":18,"v":0.95},{"x":-37.5,"x2":-29,"y":17,"y2":18,"v":1.07},{"x":-29,"x2":-25,"y":17,"y2":18,"v":1.03},{"x":-25,"x2":-22,"y":17,"y2":18,"v":0.97},{"x":-22,"x2":-20,"y":17,"y2":18,"v":1.1},{"x":-20,"x2":-18,"y":17,"y2":18,"v":1.17},{"x":-18,"x2":-16.6,"y":17,"y2":18,"v":1.0},{"x":22.9,"x2":24,"y":17,"y2":18,"v":0.78},{"x":24,"x2":26,"y":17,"y2":18,"v":1.08},{"x":26,"x2":28,"y":17,"y2":18,"v":1.15},{"x":28,"x2":32,"y":17,"y2":18,"v":1.05},{"x":32,"x2":35,"y":17,"y2":18,"v":0.94},{"x":35,"x2":38,"y":17,"y2":18,"v":1.0},{"x":38,"x2":40.6,"y":17,"y2":18,"v":1.15},
{"x":-41.6,"x2":-40,"y":16,"y2":17,"v":1.1},{"x":-40,"x2":-36,"y":16,"y2":17,"v":0.94},{"x":-36,"x2":-33,"y":16,"y2":17,"v":1.08},{"x":-33,"x2":-29,"y":16,"y2":17,"v":1.11},{"x":-29,"x2":-25,"y":16,"y2":17,"v":1.03},{"x":-25,"x2":-22,"y":16,"y2":17,"v":1},{"x":-22,"x2":-19,"y":16,"y2":17,"v":1.08},{"x":-19,"x2":-16.1,"y":16,"y2":17,"v":1.03},{"x":22.9,"x2":24,"y":16,"y2":17,"v":0.8},{"x":24,"x2":30,"y":16,"y2":17,"v":1.1},{"x":30,"x2":33,"y":16,"y2":17,"v":1.03},{"x":33,"x2":35,"y":16,"y2":17,"v":0.9},{"x":35,"x2":38,"y":16,"y2":17,"v":1.1},{"x":38,"x2":40,"y":16,"y2":17,"v":1.18},
{"x":-41,"x2":-39.5,"y":15,"y2":16,"v":1.0},{"x":-39.5,"x2":-37,"y":15,"y2":16,"v":0.93},{"x":-37,"x2":-33,"y":15,"y2":16,"v":1.05},{"x":-33,"x2":-29.5,"y":15,"y2":16,"v":1.1},{"x":-29.5,"x2":-25,"y":15,"y2":16,"v":1.03},{"x":-25,"x2":-22,"y":15,"y2":16,"v":0.97},{"x":-22,"x2":-17.5,"y":15,"y2":16,"v":1.04},{"x":23,"x2":25,"y":15,"y2":16,"v":0.92},{"x":29.3,"x2":32,"y":15,"y2":16,"v":1.0},{"x":32,"x2":35,"y":15,"y2":16,"v":0.82},{"x":35,"x2":37,"y":15,"y2":16,"v":1.15},{"x":37,"x2":38.7,"y":15,"y2":16,"v":1.22},
{"x":-40,"x2":-38,"y":14,"y2":15,"v":1.15},{"x":-38,"x2":-36.5,"y":14,"y2":15,"v":1.18},{"x":-36.5,"x2":-33,"y":14,"y2":15,"v":1.08},{"x":-33,"x2":-30,"y":14,"y2":15,"v":1.14},{"x":-30,"x2":-26,"y":14,"y2":15,"v":1.1},{"x":-26,"x2":-23,"y":14,"y2":15,"v":1.03},{"x":-23,"x2":-21,"y":14,"y2":15,"v":1.08},{"x":-21,"x2":-18.3,"y":14,"y2":15,"v":1.03},{"x":32.8,"x2":35,"y":14,"y2":15,"v":0.85},{"x":36,"x2":38.2,"y":14,"y2":15,"v":1.1},
{"x":-40.2,"x2":-39,"y":13,"y2":14,"v":1.2},{"x":-39,"x2":-37,"y":13,"y2":14,"v":0.92},{"x":-37,"x2":-35.5,"y":13,"y2":14,"v":1.17},{"x":-35.5,"x2":-33,"y":13,"y2":14,"v":1.1},{"x":-33,"x2":-30.5,"y":13,"y2":14,"v":1.2},{"x":-30.5,"x2":-26,"y":13,"y2":14,"v":1.12},{"x":-26,"x2":-23,"y":13,"y2":14,"v":1.03},{"x":-23,"x2":-20.5,"y":13,"y2":14,"v":1.14},{"x":-20.5,"x2":-19.4,"y":13,"y2":14,"v":1.03},
{"x":-39.7,"x2":-38.5,"y":12,"y2":13,"v":1.0},{"x":-38.5,"x2":-37,"y":12,"y2":13,"v":0.8},{"x":-37,"x2":-35.5,"y":12,"y2":13,"v":1.0},{"x":-33.8,"x2":-31.5,"y":12,"y2":13,"v":1.08},{"x":-31.5,"x2":-30,"y":12,"y2":13,"v":1.18},{"x":-30,"x2":-26,"y":12,"y2":13,"v":1.1},{"x":-26,"x2":-23,"y":12,"y2":13,"v":0.98},{"x":-23,"x2":-20,"y":12,"y2":13,"v":1.14},{"x":-20,"x2":-19.4,"y":12,"y2":13,"v":1.1},
{"x":-38.9,"x2":-38,"y":11,"y2":12,"v":0.95},{"x":-38,"x2":-36.5,"y":11,"y2":12,"v":0.8},{"x":-36.5,"x2":-35.5,"y":11,"y2":12,"v":1},{"x":-33.5,"x2":-32,"y":11,"y2":12,"v":1.12},{"x":-32,"x2":-30.5,"y":11,"y2":12,"v":1.2},{"x":-30.5,"x2":-27,"y":11,"y2":12,"v":1.1},{"x":-27,"x2":-24,"y":11,"y2":12,"v":1.05},{"x":-24,"x2":-22,"y":11,"y2":12,"v":0.95},{"x":-22,"x2":-20,"y":11,"y2":12,"v":1.03},{"x":-20,"x2":-19.2,"y":11,"y2":12,"v":0.9},
{"x":-38,"x2":-36.5,"y":10,"y2":11,"v":0.85},{"x":-36.5,"x2":-35,"y":10,"y2":11,"v":1.1},{"x":-33.3,"x2":-31,"y":10,"y2":11,"v":1.2},{"x":-31,"x2":-28,"y":10,"y2":11,"v":1.1},{"x":-28,"x2":-25.5,"y":10,"y2":11,"v":1.03},{"x":-25.5,"x2":-22.5,"y":10,"y2":11,"v":0.93},{"x":-22.5,"x2":-21.7,"y":10,"y2":11,"v":0.85},{"x":-21.7,"x2":-20,"y":10,"y2":11,"v":1.0},{"x":-20,"x2":-19.2,"y":10,"y2":11,"v":0.82},
{"x":-37.3,"x2":-35.9,"y":9,"y2":10,"v":1.2},{"x":-32.9,"x2":-27,"y":9,"y2":10,"v":1.09},{"x":-27,"x2":-25.5,"y":9,"y2":10,"v":1.2},{"x":-25.5,"x2":-23.5,"y":9,"y2":10,"v":1.05},{"x":-23.5,"x2":-22.3,"y":9,"y2":10,"v":0.87},{"x":-21.8,"x2":-20,"y":9,"y2":10,"v":0.98},{"x":-20,"x2":-19.2,"y":9,"y2":10,"v":0.82},
{"x":-32.7,"x2":-27,"y":8,"y2":9,"v":1.12},{"x":-27,"x2":-25.5,"y":8,"y2":9,"v":1.22},{"x":-25.5,"x2":-23,"y":8,"y2":9,"v":1.05},{"x":-23,"x2":-22,"y":8,"y2":9,"v":0.85},
{"x":-32.2,"x2":-29,"y":7,"y2":8,"v":1.18},{"x":-29,"x2":-27.4,"y":7,"y2":8,"v":1.12},{"x":-26.5,"x2":-25,"y":7,"y2":8,"v":1.2},{"x":-25,"x2":-23.5,"y":7,"y2":8,"v":1.05},{"x":-23.5,"x2":-22.2,"y":7,"y2":8,"v":0.83},
{"x":-31.3,"x2":-27.8,"y":6,"y2":7,"v":1.2},{"x":-26.4,"x2":-24.5,"y":6,"y2":7,"v":1.17},{"x":-24.5,"x2":-23,"y":6,"y2":7,"v":1.03},{"x":-23,"x2":-22.6,"y":6,"y2":7,"v":0.9},
{"x":-25.4,"x2":-24.5,"y":5,"y2":6,"v":1.18},{"x":-24.5,"x2":-23.6,"y":5,"y2":6,"v":1.03},{"x":-26,"x2":-25.4,"y":4.6,"y2":5,"v":1.15},
{"x":-3.5,"x2":-1.2,"y":54,"y2":54.2,"v":0.93},{"x":-14.2,"x2":-12.5,"y":50,"y2":50.3,"v":0.95},{"x":-18.2,"x2":-17,"y":49,"y2":49.3,"v":0.95},{"x":42.7,"x2":44.2,"y":40,"y2":40.3,"v":1.15},
{"x":-36.6,"x2":-34.6,"y":32.9,"y2":33.3,"v":1.22},{"x":-36.9,"x2":-35.7,"y":31.4,"y2":31.8,"v":1.22},{"x":-39.6,"x2":-38.8,"y":25.7,"y2":26,"v":1.22},{"x":-39,"x2":-38,"y":19,"y2":19.9,"v":1.22},{"x":-15.5,"x2":-14.8,"y":21.2,"y2":22.8,"v":1.2},{"x":-29.5,"x2":-27.8,"y":11.3,"y2":13.2,"v":1.22},{"x":-28,"x2":-26.1,"y":10.4,"y2":11.6,"v":1.2},{"x":-29.7,"x2":-28.2,"y":8.4,"y2":9.5,"v":1.22},{"x":-30.1,"x2":-29.1,"y":7.4,"y2":8.3,"v":1.22},{"x":-21.6,"x2":-20.7,"y":16.4,"y2":17.3,"v":1.2},{"x":-20.4,"x2":-19.6,"y":11.9,"y2":12.7,"v":1.15},{"x":14.7,"x2":16.2,"y":28.7,"y2":29.9,"v":1.22},{"x":34.4,"x2":35.7,"y":40.4,"y2":41.2,"v":1.18},{"x":42.4,"x2":44.2,"y":30.1,"y2":31.4,"v":1.22},{"x":41.9,"x2":43.2,"y":24.7,"y2":26.3,"v":1.2},{"x":46.1,"x2":47.1,"y":25.9,"y2":27.2,"v":1.22},{"x":40.4,"x2":42,"y":23.2,"y2":24.2,"v":1.22},{"x":20.6,"x2":22.2,"y":21.2,"y2":23.4,"v":1.22},{"x":22,"x2":23.2,"y":21.3,"y2":22,"v":0.78},{"x":38.6,"x2":39.6,"y":21.8,"y2":22.7,"v":1.2},{"x":37.7,"x2":38.4,"y":20.8,"y2":21.5,"v":1.22},{"x":35.6,"x2":37.2,"y":19.1,"y2":20.2,"v":1.22},{"x":36.1,"x2":37.8,"y":15.2,"y2":16.4,"v":1.22},{"x":32,"x2":32.8,"y":15.2,"y2":16.4,"v":1.22},
{"x":-36.3,"x2":-35,"y":33.2,"y2":34,"v":0.2},{"x":-36.7,"x2":-35.9,"y":31.7,"y2":32.5,"v":0.2},{"x":-39.3,"x2":-38.9,"y":25.9,"y2":26.5,"v":0.2},{"x":-38.7,"x2":-38.2,"y":19.2,"y2":19.7,"v":0.2},{"x":-15.3,"x2":-15,"y":21.5,"y2":22.5,"v":0.2},{"x":-28.7,"x2":-28,"y":12.4,"y2":13,"v":0.2},{"x":-29.3,"x2":-28.4,"y":11.5,"y2":12.4,"v":0.2},{"x":-27.8,"x2":-26.3,"y":10.6,"y2":11.4,"v":0.2},{"x":-29.5,"x2":-28.4,"y":8.6,"y2":9.3,"v":0.2},{"x":-29.9,"x2":-29.3,"y":7.6,"y2":8.1,"v":0.2},{"x":-21.4,"x2":-20.9,"y":16.6,"y2":17.1,"v":0.2},{"x":-20.3,"x2":-19.7,"y":12,"y2":12.6,"v":0.2},{"x":14.9,"x2":16,"y":28.9,"y2":29.7,"v":0.2},{"x":34.7,"x2":35.5,"y":40.6,"y2":41.1,"v":0.2},{"x":42.7,"x2":43.6,"y":30.6,"y2":31.2,"v":0.2},{"x":43.3,"x2":43.9,"y":30.3,"y2":30.6,"v":0.2},{"x":42.1,"x2":43,"y":24.9,"y2":26.1,"v":0.2},{"x":46.3,"x2":46.9,"y":26.1,"y2":27,"v":0.2},{"x":40.6,"x2":40.9,"y":23.8,"y2":24,"v":0.2},{"x":41.2,"x2":41.8,"y":23.4,"y2":23.7,"v":0.2},{"x":20.8,"x2":22,"y":21.4,"y2":23.2,"v":0.2},{"x":21.7,"x2":22.5,"y":21.1,"y2":21.5,"v":0.2},{"x":38.8,"x2":39.4,"y":22,"y2":22.5,"v":0.2},{"x":37.9,"x2":38.2,"y":21,"y2":21.3,"v":0.2},{"x":35.8,"x2":37,"y":19.5,"y2":19.8,"v":0.2},{"x":36.4,"x2":36.7,"y":19.2,"y2":20.1,"v":0.2},{"x":32.3,"x2":32.6,"y":15.4,"y2":16,"v":0.2},{"x":36.3,"x2":37.6,"y":15.4,"y2":16.2,"v":0.2},{"x":43.8,"x2":44.5,"y":20.9,"y2":21.6,"v":0.2},{"x":44.2,"x2":44.9,"y":22.3,"y2":23.1,"v":0.2},
{"x":-43.5,"x2":-43.2,"y":30.1,"y2":30.4,"v":1.2},{"x":-41.8,"x2":-41.2,"y":21,"y2":21.6,"v":1.2},{"x":-41,"x2":-40.8,"y":21,"y2":21.6,"v":1.2},{"x":-40.1,"x2":-39.9,"y":22.7,"y2":23,"v":1.2},{"x":-34.6,"x2":-34,"y":8.5,"y2":9,"v":1.1},{"x":-39.7,"x2":-39.4,"y":10.8,"y2":11.1,"v":1.2},{"x":-29.9,"x2":-29.6,"y":4.7,"y2":5,"v":1.2},{"x":51,"x2":51.6,"y":33,"y2":33.6,"v":1.15},{"x":46.4,"x2":47.2,"y":31.3,"y2":31.6,"v":1.2},{"x":46.9,"x2":47.1,"y":28.8,"y2":30.4,"v":1.2},{"x":47.2,"x2":47.5,"y":30.5,"y2":30.8,"v":1.2},{"x":50.2,"x2":51,"y":30.4,"y2":30.9,"v":1.05},{"x":50.9,"x2":52,"y":28.4,"y2":30,"v":0.93},{"x":51.7,"x2":52.1,"y":25.9,"y2":27.4,"v":1.2},{"x":48.1,"x2":48.6,"y":25.5,"y2":25.8,"v":1.2},{"x":49.7,"x2":50,"y":28.3,"y2":28.6,"v":1.2}],
"bar":[{"a":0.2,"b":0.225,"v":0.2125},{"a":0.225,"b":0.25,"v":0.2375},{"a":0.25,"b":0.275,"v":0.2625},{"a":0.275,"b":0.3,"v":0.2875},{"a":0.3,"b":0.325,"v":0.3125},{"a":0.325,"b":0.35,"v":0.3375},{"a":0.35,"b":0.375,"v":0.3625},{"a":0.375,"b":0.4,"v":0.3875},{"a":0.4,"b":0.425,"v":0.4125},{"a":0.425,"b":0.45,"v":0.4375},{"a":0.45,"b":0.475,"v":0.4625},{"a":0.475,"b":0.5,"v":0.4875},{"a":0.5,"b":0.525,"v":0.5125},{"a":0.525,"b":0.55,"v":0.5375},{"a":0.55,"b":0.575,"v":0.5625},{"a":0.575,"b":0.6,"v":0.5875},{"a":0.6,"b":0.625,"v":0.6125},{"a":0.625,"b":0.65,"v":0.6375},{"a":0.65,"b":0.675,"v":0.6625},{"a":0.675,"b":0.7,"v":0.6875},{"a":0.7,"b":0.725,"v":0.7125},{"a":0.725,"b":0.75,"v":0.7375},{"a":0.75,"b":0.775,"v":0.7625},{"a":0.775,"b":0.8,"v":0.7875},{"a":0.8,"b":0.825,"v":0.8125},{"a":0.825,"b":0.85,"v":0.8375},{"a":0.85,"b":0.875,"v":0.8625},{"a":0.875,"b":0.9,"v":0.8875},{"a":0.9,"b":0.925,"v":0.9125},{"a":0.925,"b":0.95,"v":0.9375},{"a":0.95,"b":0.975,"v":0.9625},{"a":0.975,"b":1,"v":0.9875},{"a":1,"b":1.025,"v":1.0125},{"a":1.025,"b":1.05,"v":1.0375},{"a":1.05,"b":1.075,"v":1.0625},{"a":1.075,"b":1.1,"v":1.0875},{"a":1.1,"b":1.125,"v":1.1125},{"a":1.125,"b":1.15,"v":1.1375},{"a":1.15,"b":1.175,"v":1.1625},{"a":1.175,"b":1.2,"v":1.1875},{"a":1.2,"b":1.225,"v":1.2125},{"a":1.225,"b":1.25,"v":1.2375},{"a":1.25,"b":1.275,"v":1.2625},{"a":1.275,"b":1.3,"v":1.2875},{"a":1.3,"b":1.325,"v":1.3125},{"a":1.325,"b":1.35,"v":1.3375},{"a":1.35,"b":1.375,"v":1.3625},{"a":1.375,"b":1.4,"v":1.3875},{"a":1.4,"b":1.425,"v":1.4125},{"a":1.425,"b":1.45,"v":1.4375},{"a":1.45,"b":1.475,"v":1.4625},{"a":1.475,"b":1.5,"v":1.4875},{"a":1.5,"b":1.525,"v":1.5125},{"a":1.525,"b":1.55,"v":1.5375},{"a":1.55,"b":1.575,"v":1.5625},{"a":1.575,"b":1.6,"v":1.5875},{"a":1.6,"b":1.625,"v":1.6125},{"a":1.625,"b":1.65,"v":1.6375},{"a":1.65,"b":1.675,"v":1.6625},{"a":1.675,"b":1.7,"v":1.6875},{"a":1.7,"b":1.725,"v":1.7125},{"a":1.725,"b":1.75,"v":1.7375},{"a":1.75,"b":1.775,"v":1.7625},{"a":1.775,"b":1.8,"v":1.7875}]},
"hconcat":[{"width":2730,"height":1588,"layer":[
{"data":{"name":"cells"},"mark":{"type":"rect","strokeWidth":1},"encoding":{
"x":{"field":"x","type":"quantitative","scale":{"domain":[-60.2,60.4],"nice":false,"zero":false},"axis":{"orient":"bottom","values":[-50,-40,-30,-20,-10,0,10,20,30,40,50],"title":"Distance from nozzle axis [mm]","labelExpr":"''+datum.value","zindex":1,"grid":true,"gridColor":"#FFFFFF","gridDash":[2.5,5.5],"gridWidth":2,"gridOpacity":0.9,"tickSize":-27,"tickWidth":2,"tickColor":"#262626","domainColor":"#262626","domainWidth":3,"labelFont":"Liberation Sans","labelFontWeight":"bold","labelFontSize":51,"labelColor":"#262626","labelPadding":59,"titleFont":"Liberation Sans","titleFontWeight":"bold","titleFontSize":58.5,"titleColor":"#262626","titlePadding":20}},
"x2":{"field":"x2"},
"y":{"field":"y","type":"quantitative","scale":{"domain":[-0.2,70],"nice":false,"zero":false},"axis":{"orient":"left","values":[0,10,20,30,40,50,60],"title":"Distance from nozzle [mm]","labels":false,"zindex":1,"grid":true,"gridColor":"#FFFFFF","gridDash":[2.5,5.5],"gridWidth":2,"gridOpacity":0.9,"tickSize":-27,"tickWidth":2,"tickColor":"#262626","domainColor":"#262626","domainWidth":3,"titleFont":"Liberation Sans","titleFontWeight":"bold","titleFontSize":58.5,"titleColor":"#262626","titlePadding":24}},
"y2":{"field":"y2"},
"fill":{"field":"v","type":"quantitative","legend":null,"scale":{"type":"quantize","domain":[0.2,1.8],"nice":false,"range":["#00008F","#00009F","#0000AF","#0000BF","#0000CF","#0000DF","#0000EF","#0000FF","#0010FF","#0020FF","#0030FF","#0040FF","#0050FF","#0060FF","#0070FF","#0080FF","#008FFF","#009FFF","#00AFFF","#00BFFF","#00CFFF","#00DFFF","#00EFFF","#00FFFF","#10FFEF","#20FFDF","#30FFCF","#40FFBF","#50FFAF","#60FF9F","#70FF8F","#80FF80","#8FFF70","#9FFF60","#AFFF50","#BFFF40","#CFFF30","#DFFF20","#EFFF10","#FFFF00","#FFEF00","#FFDF00","#FFCF00","#FFBF00","#FFAF00","#FF9F00","#FF8F00","#FF8000","#FF7000","#FF6000","#FF5000","#FF4000","#FF3000","#FF2000","#FF1000","#FF0000","#EF0000","#DF0000","#CF0000","#BF0000","#AF0000","#9F0000","#8F0000","#800000"]}},
"stroke":{"field":"v","type":"quantitative","legend":null,"scale":{"type":"quantize","domain":[0.2,1.8],"nice":false,"range":["#00008F","#00009F","#0000AF","#0000BF","#0000CF","#0000DF","#0000EF","#0000FF","#0010FF","#0020FF","#0030FF","#0040FF","#0050FF","#0060FF","#0070FF","#0080FF","#008FFF","#009FFF","#00AFFF","#00BFFF","#00CFFF","#00DFFF","#00EFFF","#00FFFF","#10FFEF","#20FFDF","#30FFCF","#40FFBF","#50FFAF","#60FF9F","#70FF8F","#80FF80","#8FFF70","#9FFF60","#AFFF50","#BFFF40","#CFFF30","#DFFF20","#EFFF10","#FFFF00","#FFEF00","#FFDF00","#FFCF00","#FFBF00","#FFAF00","#FF9F00","#FF8F00","#FF8000","#FF7000","#FF6000","#FF5000","#FF4000","#FF3000","#FF2000","#FF1000","#FF0000","#EF0000","#DF0000","#CF0000","#BF0000","#AF0000","#9F0000","#8F0000","#800000"]}}}},
{"data":{"name":"frame"},"mark":{"type":"rect","opacity":0},"encoding":{
"x":{"field":"x","type":"quantitative","scale":{"domain":[-60.2,60.4],"nice":false,"zero":false},"axis":{"orient":"top","values":[-50,-40,-30,-20,-10,0,10,20,30,40,50],"labels":false,"title":null,"grid":false,"zindex":1,"tickSize":-27,"tickWidth":2,"tickColor":"#262626","domainColor":"#262626","domainWidth":3}},
"x2":{"field":"x2"},
"y":{"field":"y","type":"quantitative","scale":{"domain":[-0.2,70],"nice":false,"zero":false},"axis":{"orient":"right","values":[0,10,20,30,40,50,60],"labels":false,"title":null,"grid":false,"zindex":1,"tickSize":-27,"tickWidth":2,"tickColor":"#262626","domainColor":"#262626","domainWidth":3}},
"y2":{"field":"y2"}}}],
"resolve":{"axis":{"x":"independent","y":"independent"},"scale":{"x":"shared","y":"shared"}}},
{"width":52,"height":1588,"view":{"stroke":"#262626","strokeWidth":3},"data":{"name":"bar"},"mark":{"type":"rect","strokeWidth":0.6},"encoding":{
"y":{"field":"a","type":"quantitative","scale":{"domain":[0.2,1.8],"nice":false,"zero":false},"axis":{"orient":"right","values":[0.2,0.4,0.6,0.8,1,1.2,1.4,1.6,1.8],"labelExpr":"format(datum.value,'~g')","title":null,"grid":false,"zindex":1,"tickSize":-16,"tickWidth":2,"tickColor":"#262626","domain":false,"labelFont":"Liberation Sans","labelFontWeight":"bold","labelFontSize":47,"labelColor":"#262626","labelPadding":28,"labelOverlap":false,"labelBound":false}},
"y2":{"field":"b"},
"fill":{"field":"v","type":"quantitative","legend":null,"scale":{"type":"quantize","domain":[0.2,1.8],"nice":false,"range":["#00008F","#00009F","#0000AF","#0000BF","#0000CF","#0000DF","#0000EF","#0000FF","#0010FF","#0020FF","#0030FF","#0040FF","#0050FF","#0060FF","#0070FF","#0080FF","#008FFF","#009FFF","#00AFFF","#00BFFF","#00CFFF","#00DFFF","#00EFFF","#00FFFF","#10FFEF","#20FFDF","#30FFCF","#40FFBF","#50FFAF","#60FF9F","#70FF8F","#80FF80","#8FFF70","#9FFF60","#AFFF50","#BFFF40","#CFFF30","#DFFF20","#EFFF10","#FFFF00","#FFEF00","#FFDF00","#FFCF00","#FFBF00","#FFAF00","#FF9F00","#FF8F00","#FF8000","#FF7000","#FF6000","#FF5000","#FF4000","#FF3000","#FF2000","#FF1000","#FF0000","#EF0000","#DF0000","#CF0000","#BF0000","#AF0000","#9F0000","#8F0000","#800000"]}},
"stroke":{"field":"v","type":"quantitative","legend":null,"scale":{"type":"quantize","domain":[0.2,1.8],"nice":false,"range":["#00008F","#00009F","#0000AF","#0000BF","#0000CF","#0000DF","#0000EF","#0000FF","#0010FF","#0020FF","#0030FF","#0040FF","#0050FF","#0060FF","#0070FF","#0080FF","#008FFF","#009FFF","#00AFFF","#00BFFF","#00CFFF","#00DFFF","#00EFFF","#00FFFF","#10FFEF","#20FFDF","#30FFCF","#40FFBF","#50FFAF","#60FF9F","#70FF8F","#80FF80","#8FFF70","#9FFF60","#AFFF50","#BFFF40","#CFFF30","#DFFF20","#EFFF10","#FFFF00","#FFEF00","#FFDF00","#FFCF00","#FFBF00","#FFAF00","#FF9F00","#FF8F00","#FF8000","#FF7000","#FF6000","#FF5000","#FF4000","#FF3000","#FF2000","#FF1000","#FF0000","#EF0000","#DF0000","#CF0000","#BF0000","#AF0000","#9F0000","#8F0000","#800000"]}}}}]}
